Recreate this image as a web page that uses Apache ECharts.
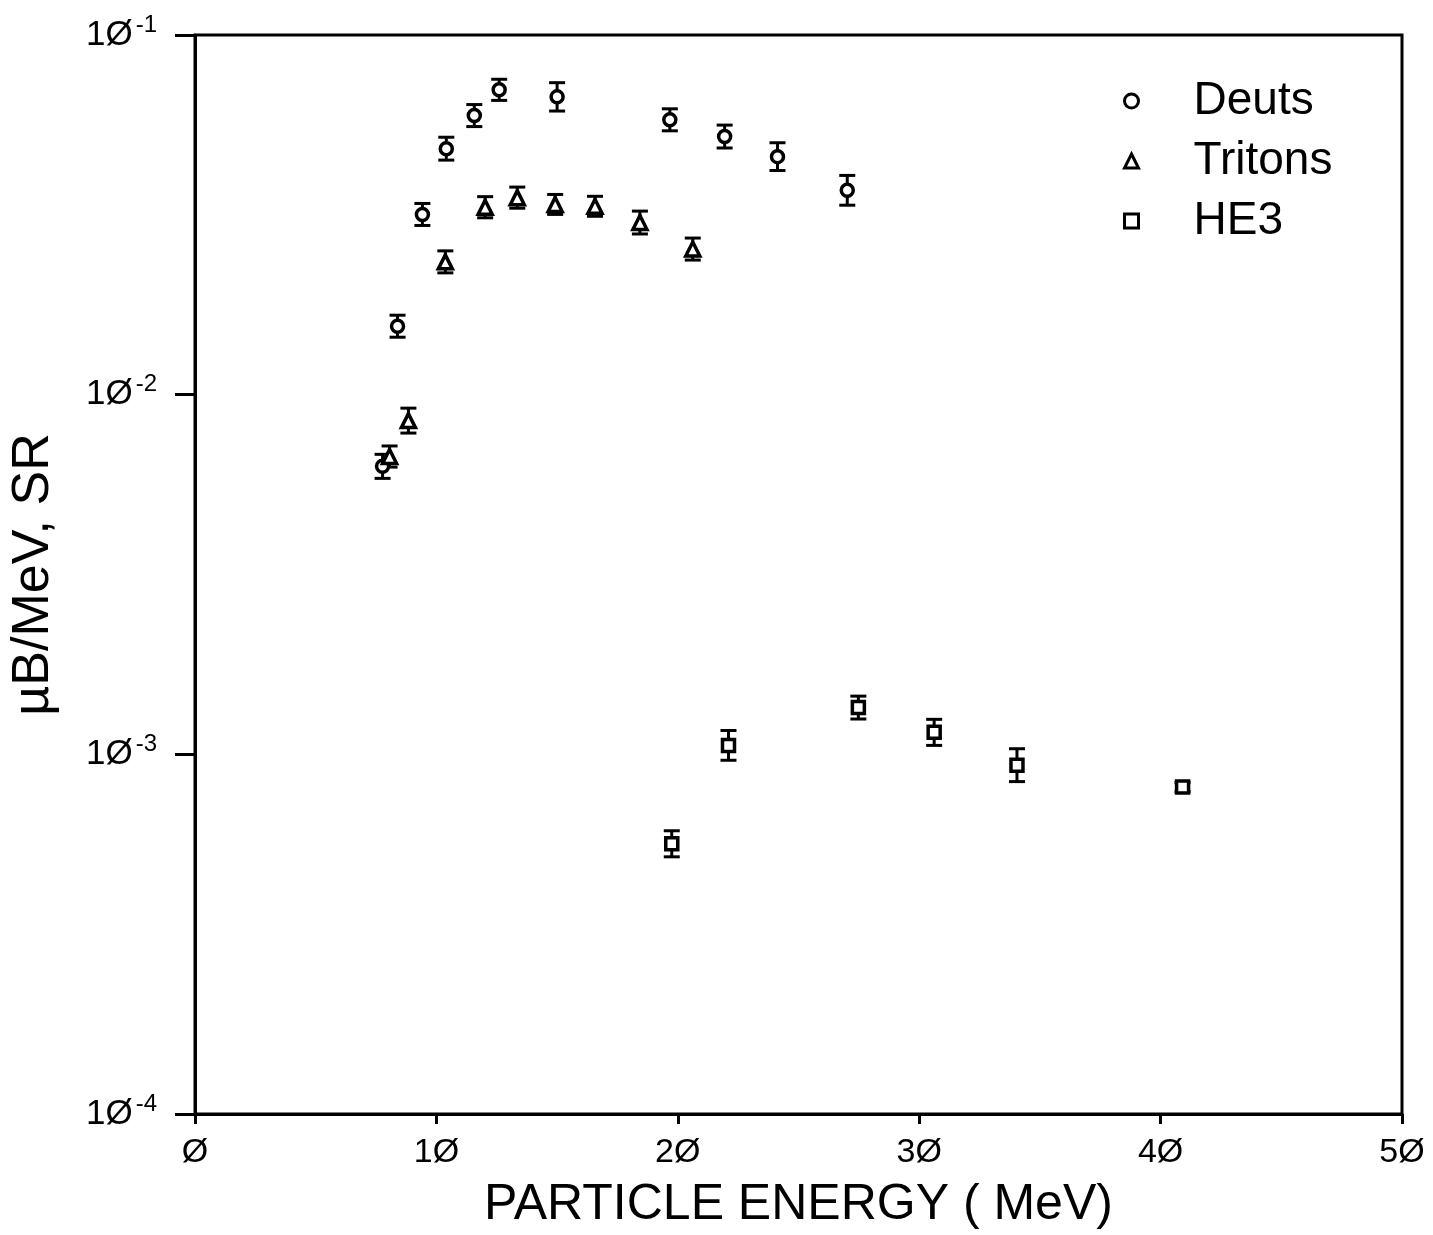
<!DOCTYPE html>
<html>
<head>
<meta charset="utf-8">
<script src="https://cdn.jsdelivr.net/npm/echarts@6/dist/echarts.min.js"></script>
<style>
html,body{margin:0;padding:0;background:#fff;}
#chart{width:1433px;height:1235px;}
</style>
</head>
<body>
<div id="chart"></div>
<script>
// ---- Data ----
const deutEnergy = [7.77, 8.39, 9.42, 10.41, 11.57, 12.6, 15.0, 19.67, 21.94, 24.13, 27.02];
const deutValue  = [0.00632, 0.0155, 0.0317, 0.0483, 0.0597, 0.0704, 0.0673, 0.0581, 0.0522, 0.0459, 0.0370];
const deutErr    = [0.08, 0.073, 0.073, 0.076, 0.073, 0.07, 0.095, 0.073, 0.076, 0.093, 0.10];

const tritEnergy = [8.06, 8.84, 10.37, 12.02, 13.35, 14.92, 16.57, 18.43, 20.62];
const tritValue  = [0.00673, 0.00847, 0.0234, 0.0332, 0.0353, 0.0338, 0.0334, 0.0301, 0.0254];
const tritErr    = [0.07, 0.083, 0.073, 0.07, 0.07, 0.066, 0.066, 0.076, 0.073];

const he3Energy = [19.75, 22.1, 27.48, 30.62, 34.05, 40.91];
const he3Value  = [0.000564, 0.001059, 0.001349, 0.001151, 0.000933, 0.000811];
const he3Err    = [0.087, 0.10, 0.076, 0.087, 0.111, 0.03];

const seriesNames = ['Deuts', 'Tritons', 'HE3'];
const yTickExponents = {'0.1': '-1', '0.01': '-2', '0.001': '-3', '0.0001': '-4'};
const xAxisTitle = 'PARTICLE ENERGY ( MeV)';
const yAxisTitle = 'µB/MeV, SR';

// ---- Build ----
const FONT = 'Liberation Sans';
function points(xs, ys) { return xs.map((x, i) => [x, ys[i]]); }
function bars(xs, ys, es) { return xs.map((x, i) => [x, ys[i] / (1 + es[i]), ys[i] * (1 + es[i])]); }

function errRender(params, api) {
  const x = api.value(0);
  const lo = api.coord([x, api.value(1)]);
  const hi = api.coord([x, api.value(2)]);
  const w = 8;
  const st = {stroke: '#000', lineWidth: 3};
  return {
    type: 'group',
    children: [
      {type: 'line', shape: {x1: lo[0], y1: lo[1], x2: hi[0], y2: hi[1]}, style: st},
      {type: 'line', shape: {x1: lo[0] - w, y1: lo[1], x2: lo[0] + w, y2: lo[1]}, style: st},
      {type: 'line', shape: {x1: hi[0] - w, y1: hi[1], x2: hi[0] + w, y2: hi[1]}, style: st}
    ]
  };
}

function errSeries(name, data) {
  return {
    type: 'custom', name: name, renderItem: errRender, data: data,
    encode: {x: 0, y: [1, 2]}, silent: true, z: 3
  };
}

function scatterSeries(name, symbol, size, data) {
  return {
    type: 'scatter', name: name, symbol: symbol, symbolSize: size, data: data,
    itemStyle: {color: '#fff', borderColor: '#000', borderWidth: 3.5, opacity: 1},
    z: 4
  };
}

const chart = echarts.init(document.getElementById('chart'));
chart.setOption({
  animation: false,
  backgroundColor: '#fff',
  grid: {left: 191, right: 31, top: 35, bottom: 117, show: true, borderColor: '#000', borderWidth: 3, backgroundColor: 'transparent'},
  legend: {
    data: seriesNames,
    orient: 'vertical',
    left: 1118, top: 72,
    itemWidth: 14, itemHeight: 14, itemGap: 12,
    textStyle: {fontFamily: FONT, fontSize: 46, color: '#000', lineHeight: 48, padding: [0, 0, 0, 50]},
    itemStyle: {color: '#fff', borderColor: '#000', borderWidth: 3, opacity: 1}
  },
  xAxis: {
    type: 'value', min: 0, max: 50, interval: 10,
    name: xAxisTitle, nameLocation: 'middle', nameGap: 66,
    nameTextStyle: {fontFamily: FONT, fontSize: 50, color: '#000'},
    axisLine: {show: true, lineStyle: {color: '#000', width: 3}},
    axisTick: {show: true, inside: false, length: 10, lineStyle: {color: '#000', width: 3}},
    axisLabel: {margin: 22, fontFamily: FONT, fontSize: 34, color: '#000',
      formatter: v => String(v).replace(/0/g, 'Ø')},
    splitLine: {show: false}
  },
  yAxis: {
    type: 'log', logBase: 10, min: 0.0001, max: 0.1,
    name: yAxisTitle, nameLocation: 'middle', nameGap: 135, nameRotate: 90,
    nameTextStyle: {fontFamily: FONT, fontSize: 52, color: '#000'},
    axisLine: {show: true, lineStyle: {color: '#000', width: 3}},
    axisTick: {show: true, inside: false, length: 20, lineStyle: {color: '#000', width: 3}},
    minorTick: {show: false},
    axisLabel: {
      margin: 38, color: '#000',
      formatter: function (v) {
        const key = String(+v.toPrecision(3));
        const ex = yTickExponents[key] || '';
        return '{a|1Ø}{b|' + ex + '}';
      },
      rich: {
        a: {fontFamily: FONT, fontSize: 35, color: '#000'},
        b: {fontFamily: FONT, fontSize: 24, color: '#000', padding: [0, 0, 20, 3]}
      }
    },
    splitLine: {show: false}
  },
  series: [
    errSeries('errDeut', bars(deutEnergy, deutValue, deutErr)),
    errSeries('errTrit', bars(tritEnergy, tritValue, tritErr)),
    errSeries('errHE3', bars(he3Energy, he3Value, he3Err)),
    scatterSeries(seriesNames[0], 'circle', 12, points(deutEnergy, deutValue)),
    scatterSeries(seriesNames[1], 'triangle', 14, points(tritEnergy, tritValue)),
    scatterSeries(seriesNames[2], 'rect', 12, points(he3Energy, he3Value))
  ]
});
</script>
</body>
</html>
